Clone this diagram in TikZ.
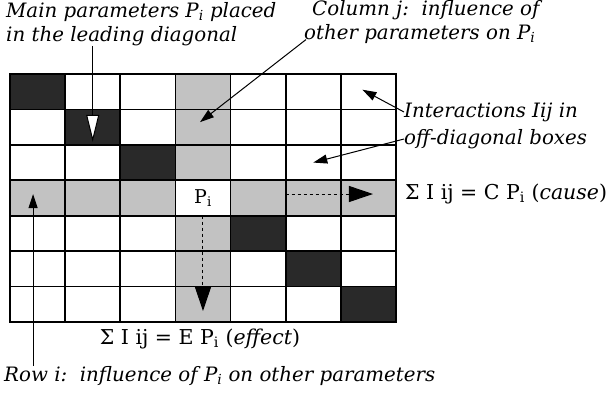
\documentclass[tikz,border=0pt]{standalone}
\usepackage{fontspec}
\setmainfont{DejaVu Serif}
\newfontfamily\eqfont{DejaVu Serif}
\usetikzlibrary{positioning, arrows.meta, calc}

\definecolor{darkdot}{gray}{0.16}
\definecolor{lightdot}{gray}{0.76}

\begin{document}
\begin{tikzpicture}[x=1pt, y=-1pt, font=\fontsize{19.8}{24}\selectfont\itshape,
  cell/.style={draw, line width=1.6pt, minimum width=55.14pt, minimum height=35.43pt, inner sep=0pt, outer sep=0pt, anchor=north west},
  lbl/.style={align=left, inner sep=0pt, anchor=north west},
  eqn/.style={inner sep=0pt, font=\eqfont\fontsize{20.5}{22}\selectfont},
  thin/.style={line width=1pt},
  bigtip/.style={thin, dashed, -{Triangle[length=24pt, width=16pt]}},
  smalltip/.style={thin, -{Triangle[length=14pt, width=9pt]}}]
\useasboundingbox (0,0) rectangle (613,392);

% the 7 x 7 interaction matrix
\foreach \r in {0,...,6}{
  \foreach \c in {0,...,6}{
    \pgfmathtruncatemacro{\kind}{((\r==\c)&&(\r!=3))*2 + (((\r==3)||(\c==3))&&(\r!=\c))}
    \ifcase\kind \def\tint{white}\or \def\tint{lightdot}\or \def\tint{darkdot}\fi
    \node[cell, fill=\tint] (c-\r-\c) at ({10+\c*55.14},{74+\r*35.43}) {};
  }
}
\node[eqn, font=\eqfont\fontsize{19}{20}\selectfont] (pi) at (c-3-3) {P\textsubscript{i}};

% labels
\node[lbl] (main) at (6,2) {Main parameters P\textsubscript{i} placed\\in the leading diagonal};
\node[lbl] (colj) at (304,0) {\hspace*{8pt}Column j:\ \ influence of\\other parameters on P\textsubscript{i}};
\node[lbl, anchor=west] (int1) at (404,112) {Interactions Iij in};
\node[lbl, anchor=west] (int2) at (404,139) {off-diagonal boxes};
\node[eqn, anchor=west] (cause) at (405,194) {Σ I ij = C P\textsubscript{i} (\textit{cause})};
\node[eqn] (effect) at (200,339) {Σ I ij = E P\textsubscript{i} (\textit{effect})};
\node[lbl, anchor=west] (rowi) at (4,376) {Row i:\ \ influence of P\textsubscript{i} on other parameters};

% arrows
\draw[thin, -{Triangle[length=27pt, width=13pt, fill=white]}] (main.south -| c-1-1) -- ([yshift=3pt]c-1-1.south);
\draw[smalltip] ([shift={(2pt,4pt)}]colj.south west) -- ([shift={(-3pt,5pt)}]c-1-3.center);
\draw[smalltip] (int1.west) -- ([shift={(-6pt,2pt)}]c-0-6.center);
\draw[smalltip] (int2.west) -- (c-2-5.center);
\draw[bigtip] ([yshift=4pt]c-3-5.west) -- ([shift={(-23pt,4pt)}]c-3-6.east);
\draw[bigtip] (c-4-3.north) -- ([yshift=11pt]c-6-3.south);
\coordinate (rtip) at ([shift={(-4.5pt,4pt)}]c-3-0.center);
\draw[smalltip] (rowi.north -| rtip) -- (rtip);
\end{tikzpicture}
\end{document}
